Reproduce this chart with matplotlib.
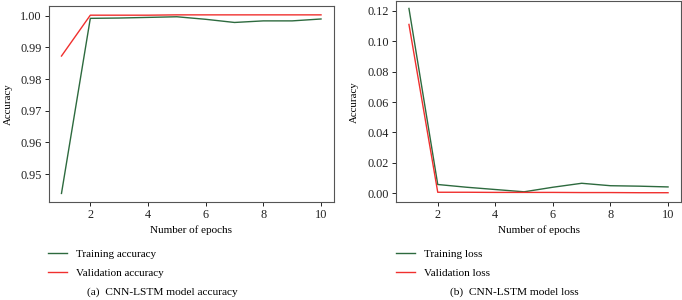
import matplotlib
matplotlib.use("Agg")
import matplotlib.pyplot as plt
from matplotlib.lines import Line2D

plt.rcParams['font.family'] = ['Liberation Serif', 'DejaVu Serif']

epochs = [1, 2, 3, 4, 5, 6, 7, 8, 9, 10]
train_acc = [0.9439, 0.9992, 0.9993, 0.9995, 0.9997, 0.9989, 0.9979, 0.9984, 0.9984, 0.9990]
val_acc = [0.9873, 1.0002, 1.0002, 1.0002, 1.0003, 1.0003, 1.0003, 1.0003, 1.0003, 1.0003]
train_loss = [0.1215, 0.0058, 0.0040, 0.0025, 0.0010, 0.0040, 0.0066, 0.0050, 0.0047, 0.0042]
val_loss = [0.1110, 0.0007, 0.0007, 0.0006, 0.0006, 0.0006, 0.0005, 0.0005, 0.0004, 0.0004]
xticks = [2, 4, 6, 8, 10]
acc_ticks = [0.95, 0.96, 0.97, 0.98, 0.99, 1.00]
loss_ticks = [0.00, 0.02, 0.04, 0.06, 0.08, 0.10, 0.12]

GREEN = '#2d6a3e'
RED = '#f0302e'

fig = plt.figure(figsize=(6.82, 3.0), dpi=100)
ax1 = fig.add_axes([48.5/682, 1-202.3/300, 285.5/682, 196.3/300])
ax2 = fig.add_axes([396/682, 1-202.3/300, 285/682, 201.3/300])

def style(ax, pad):
    for s in ax.spines.values():
        s.set_color('#555555')
        s.set_linewidth(0.8)
    ax.tick_params(labelsize=8.8, length=3, width=0.7, colors='#222222', pad=2)
    ax.set_xticks(xticks)
    ax.set_xlim(0.55, 10.45)
    ax.set_xlabel('Number of epochs', fontsize=8, labelpad=3)
    ax.set_ylabel('Accuracy', fontsize=7.8, labelpad=pad)

ax1.plot(epochs, train_acc, color=GREEN, lw=1.0)
ax1.plot(epochs, val_acc, color=RED, lw=1.0)
ax1.set_yticks(acc_ticks)
ax1.set_yticklabels([f'{t:.2f}' for t in acc_ticks])
ax1.set_ylim(0.9411, 1.0031)
style(ax1, 5)

ax2.plot(epochs, train_loss, color=GREEN, lw=1.0)
ax2.plot(epochs, val_loss, color=RED, lw=1.0)
ax2.set_yticks(loss_ticks)
ax2.set_yticklabels([f'{t:.2f}' for t in loss_ticks])
ax2.set_ylim(-0.0059, 0.1264)
style(ax2, 6)

def legend(x, labels):
    handles = [Line2D([], [], color=GREEN, lw=1.0), Line2D([], [], color=RED, lw=1.0)]
    fig.legend(handles, labels, loc='upper left', bbox_to_anchor=(x/682, 1-249/300),
               frameon=False, fontsize=8, handlelength=1.75, handletextpad=0.75,
               labelspacing=0.85, borderaxespad=0, borderpad=0)

legend(48, ['Training accuracy', 'Validation accuracy'])
legend(396, ['Training loss', 'Validation loss'])

fig.text(162/682, 1-292/300, '(a)  CNN-LSTM model accuracy', ha='center', va='center', fontsize=8.2)
fig.text(514/682, 1-292/300, '(b)  CNN-LSTM model loss', ha='center', va='center', fontsize=8.2)

fig.savefig('out.png', dpi=100)
